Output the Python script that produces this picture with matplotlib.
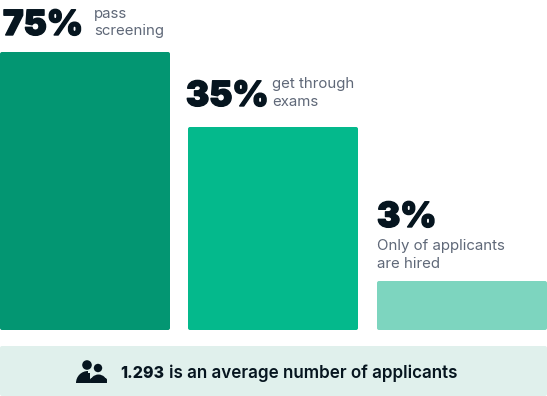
import matplotlib
matplotlib.use("Agg")
import matplotlib.pyplot as plt
import matplotlib.patheffects as pe
from matplotlib.patches import FancyBboxPatch, Circle, Wedge, Rectangle

# bar heights (they don't scale with the percentages)
percents = ["75%", "35%", "3%"]
captions = ["pass\nscreening", "get through\nexams", "Only of applicants\nare hired"]
bar_heights = [278, 203, 49]
bar_colors = ["#039672", "#04B98C", "#7DD5BF"]
footer_number = "1.293"
footer_text = "is an average number of applicants"

DARK = "#06151F"
GREY = "#5F6878"
FONT = "Inter"

fig = plt.figure(figsize=(5.47, 3.96), dpi=100)
ax = fig.add_axes([0, 0, 1, 1])
ax.set_xlim(0, 547)
ax.set_ylim(0, 396)
ax.axis("off")

lefts = [0, 188, 377]
width = 170
base = 66
bars = ax.bar(lefts, bar_heights, width=width, bottom=base, align="edge", color="none")
for bar, col in zip(bars, bar_colors):
    x, y = bar.get_xy()
    r = 2
    ax.add_patch(FancyBboxPatch((x + r, y + r), bar.get_width() - 2 * r, bar.get_height() - 2 * r,
                                boxstyle="round,pad=%d,rounding_size=%d" % (r, r), fc=col, ec="none"))

# number + caption
big = dict(fontsize=25, fontweight=900, family=FONT, color=DARK, va="baseline", ha="left")
small = dict(fontsize=10.8, family=FONT, color=GREY, va="baseline", ha="left")
pct_pos = [(3, 35), (186, 106), (377, 227)]
cap_pos = [(94, 18), (272, 88), (377, 250)]
for p, (px, py) in zip(percents, pct_pos):
    txt = ax.text(px, 396 - py, p, **big)
    txt.set_path_effects([pe.withStroke(linewidth=1.0, foreground=DARK)])
for c, (cx, cy) in zip(captions, cap_pos):
    for i, line in enumerate(c.split("\n")):
        ax.text(cx, 396 - cy - i * 17.5, line, **small)

# footer band
ax.add_patch(FancyBboxPatch((2, 2), 543, 46, boxstyle="round,pad=2,rounding_size=2", fc="#E0F0EC", ec="none"))

# people icon
ax.add_patch(Circle((87, 396 - 365), 4.8, fc=DARK, ec="none"))
ax.add_patch(Circle((98, 396 - 368), 4.2, fc=DARK, ec="none"))
ax.add_patch(Wedge((88, 396 - 383), 12, 90, 180, fc=DARK, ec="none"))
ax.add_patch(Rectangle((88, 396 - 383), 2, 10, fc=DARK, ec="none"))
ax.add_patch(FancyBboxPatch((90, 396 - 383), 17, 5, boxstyle="round,pad=0,rounding_size=2", fc=DARK, ec="none"))
ax.add_patch(Wedge((98.5, 396 - 383), 8.5, 0, 180, fc=DARK, ec="none"))

t = dict(family=FONT, color=DARK, va="baseline", ha="left")
ax.text(120, 396 - 378, footer_number, fontweight=800, fontsize=11.5, **t)
ax.text(169, 396 - 378, footer_text, fontweight=600, fontsize=12.25, **t)

fig.savefig("out.png", dpi=100)
